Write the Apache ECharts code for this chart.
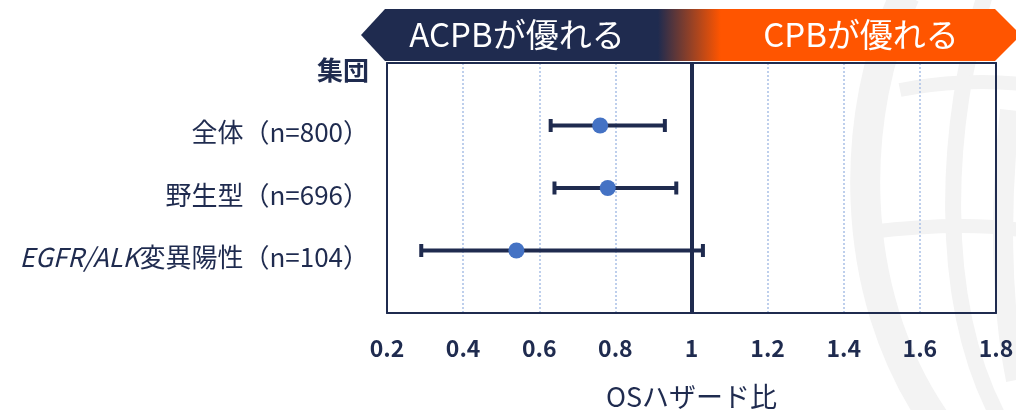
<!DOCTYPE html>
<html>
<head>
<meta charset="utf-8">
<script src="https://cdn.jsdelivr.net/npm/echarts@6/dist/echarts.min.js"></script>
<style>
  html, body { margin: 0; padding: 0; background: #ffffff; }
  #chart { width: 1016px; height: 410px; }
</style>
</head>
<body>
<div id="chart"></div>
<script>
// Subgroups (row 0 is the column header)
const groupHeader = '集団';
const groupLabels = ['全体（n=800）', '野生型（n=696）', 'EGFR/ALK変異陽性（n=104）'];
// Hazard ratios and 95% confidence limits
const hazardRatio = [0.76, 0.78, 0.54];
const ciLower = [0.63, 0.64, 0.29];
const ciUpper = [0.93, 0.96, 1.03];
// Axis settings
const xTicks = [0.2, 0.4, 0.6, 0.8, 1, 1.2, 1.4, 1.6, 1.8];
const axisTitle = 'OSハザード比';
const bannerLeft = 'ACPBが優れる';
const bannerRight = 'CPBが優れる';

const NAVY = '#1f2b4f';
const BLUE = '#4472c4';
const ORANGE = '#ff5500';
const MARK = '#f3f3f3';
const FONT = '"Noto Sans CJK JP", "Noto Sans", sans-serif';

const rows = groupLabels.map((_, i) => i + 1);
const pointData = rows.map((r, i) => [hazardRatio[i], r]);
const ciData = rows.map((r, i) => [r, ciLower[i], ciUpper[i]]);
const yMax = groupLabels.length + 1;
const xMin = xTicks[0];
const xMax = xTicks[xTicks.length - 1];

const chart = echarts.init(document.getElementById('chart'), null, { renderer: 'canvas' });

function curve(x1, y1, cx1, cy1, cx2, cy2, x2, y2, w) {
  return {
    type: 'bezierCurve', z: -10, silent: true,
    shape: { x1: x1, y1: y1, cpx1: cx1, cpy1: cy1, cpx2: cx2, cpy2: cy2, x2: x2, y2: y2 },
    style: { stroke: MARK, lineWidth: w, fill: null }
  };
}

// plot frame: each side is an axis line kept at the grid edge
const frameLine = { show: true, onZero: false, lineStyle: { color: NAVY, width: 2 } };

const option = {
  backgroundColor: '#ffffff',
  animation: false,
  textStyle: { fontFamily: FONT },
  grid: {
    left: 387, right: 20, top: 63, bottom: 97,
    show: false,
    containLabel: false,
    outerBoundsMode: 'none'
  },
  xAxis: [
    {
      type: 'value',
      position: 'bottom',
      min: xMin, max: xMax, interval: 0.2,
      axisLine: frameLine,
      axisTick: { show: false },
      axisLabel: {
        margin: 24, color: NAVY, fontSize: 23, fontWeight: 'bold', fontFamily: FONT,
        formatter: v => String(Number(v.toFixed(1)))
      },
      splitLine: { show: true, lineStyle: { type: [2, 2], color: '#a9c0e6', width: 1.5 } },
      name: axisTitle,
      nameLocation: 'middle',
      nameGap: 70,
      nameTextStyle: { color: NAVY, fontSize: 27, fontFamily: FONT }
    },
    {
      type: 'value',
      position: 'top',
      min: xMin, max: xMax, interval: 0.2,
      axisLine: frameLine,
      axisTick: { show: false },
      axisLabel: { show: false },
      splitLine: { show: false }
    }
  ],
  yAxis: [
    {
      type: 'value',
      position: 'left',
      min: 0, max: yMax, interval: 1,
      inverse: true,
      axisLine: frameLine,
      axisTick: { show: false },
      splitLine: { show: false },
      axisLabel: {
        margin: 18,
        showMinLabel: true, showMaxLabel: false,
        padding: [14, 0, 0, 0],
        color: NAVY, fontSize: 26, fontFamily: FONT,
        formatter: v => {
          if (v === 0) return '{h|' + groupHeader + '}';
          const label = groupLabels[v - 1];
          if (!label) return '';
          const m = label.match(/^([A-Za-z\/]+)(.*)$/);
          if (m) return '{i|' + m[1] + '}{n|' + m[2] + '}';
          return '{n|' + label + '}';
        },
        rich: {
          h: { fontSize: 26, fontWeight: 'bold', color: NAVY, fontFamily: FONT },
          n: { fontSize: 26, color: NAVY, fontFamily: FONT },
          i: { fontSize: 26, fontStyle: 'italic', color: NAVY, fontFamily: FONT }
        }
      }
    },
    {
      type: 'value',
      position: 'right',
      min: 0, max: yMax, interval: 1,
      inverse: true,
      axisLine: frameLine,
      axisTick: { show: false },
      axisLabel: { show: false },
      splitLine: { show: false }
    }
  ],
  graphic: [
    // faint globe emblem in the background
    curve(905, -5, 850, 110, 845, 290, 935, 420, 30),
    curve(985, -5, 945, 120, 935, 300, 1000, 420, 16),
    curve(900, 90, 940, 82, 985, 80, 1020, 84, 14),
    curve(870, 232, 930, 225, 980, 224, 1020, 230, 14),
    curve(1010, 110, 1000, 200, 1000, 300, 1016, 380, 20),
    // direction banner
    { type: 'polygon', z: 10, silent: true,
      shape: { points: [[385, 9], [995, 9], [1021, 35], [995, 61], [385, 61], [361, 35]] },
      style: {
        fill: new echarts.graphic.LinearGradient(0, 0, 1, 0, [
          { offset: 0, color: NAVY },
          { offset: 0.45, color: NAVY },
          { offset: 0.545, color: ORANGE },
          { offset: 1, color: ORANGE }
        ])
      } },
    { type: 'text', z: 11, silent: true, x: 517, y: 34,
      style: { text: bannerLeft, fill: '#ffffff', fontSize: 33, fontFamily: FONT,
               textAlign: 'center', textVerticalAlign: 'middle' } },
    { type: 'text', z: 11, silent: true, x: 861, y: 34,
      style: { text: bannerRight, fill: '#ffffff', fontSize: 33, fontFamily: FONT,
               textAlign: 'center', textVerticalAlign: 'middle' } }
  ],
  series: [
    {
      type: 'custom',
      name: 'ci',
      coordinateSystem: 'cartesian2d',
      encode: { x: [1, 2], y: 0 },
      data: ciData,
      z: 3,
      renderItem: (params, api) => {
        const r = api.value(0);
        const a = api.coord([api.value(1), r]);
        const b = api.coord([api.value(2), r]);
        const h = 13;
        const st = { stroke: NAVY, lineWidth: 4 };
        return {
          type: 'group',
          children: [
            { type: 'line', shape: { x1: a[0], y1: a[1], x2: b[0], y2: b[1] }, style: st },
            { type: 'line', shape: { x1: a[0], y1: a[1] - h / 2, x2: a[0], y2: a[1] + h / 2 }, style: st },
            { type: 'line', shape: { x1: b[0], y1: b[1] - h / 2, x2: b[0], y2: b[1] + h / 2 }, style: st }
          ]
        };
      }
    },
    {
      type: 'scatter',
      name: 'hr',
      data: pointData,
      symbol: 'circle',
      symbolSize: 16,
      z: 4,
      itemStyle: { color: BLUE, opacity: 1 },
      markLine: {
        silent: true,
        symbol: 'none',
        label: { show: false },
        lineStyle: { color: NAVY, width: 4, type: 'solid' },
        data: [{ xAxis: 1 }]
      }
    }
  ]
};

chart.setOption(option);
</script>
</body>
</html>
